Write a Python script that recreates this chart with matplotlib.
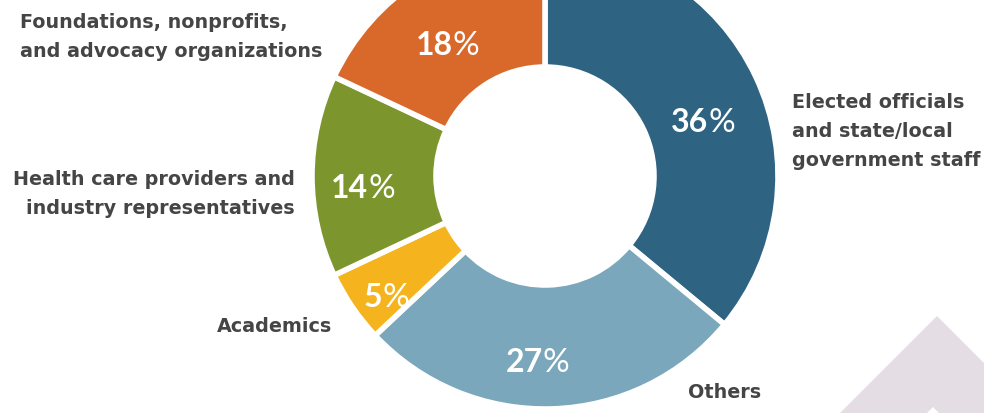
import matplotlib.pyplot as plt
from matplotlib.patches import Polygon

W, H = 984, 413

# data
categories = ["Elected officials\nand state/local\ngovernment staff",
              "Others",
              "Academics",
              "Health care providers and\nindustry representatives",
              "Foundations, nonprofits,\nand advocacy organizations"]
shares = [36, 27, 5, 14, 18]
colors = ["#2E6482", "#7AA7BB", "#F5B41E", "#7C962D", "#D9692B"]

# label placement in pixel coords (x, first baseline y, alignment)
label_pos = [(792, 108, "left"), (688, 398, "left"), (332, 332, "right"),
             (295, 185, "right"), (20, 28, "left")]
# split point between bold number and light "%" and its baseline
pct_pos = [(708, 132), (543, 372), (382, 307), (368, 198), (453, 55)]

text_color = "#454545"

fig = plt.figure(figsize=(W / 100, H / 100), dpi=100)
ax = fig.add_axes([0, 0, 1, 1])

# decorative chevron in the corner
ax.add_patch(Polygon([(937, H - 316), (840, H - 413), (1034, H - 413)],
                     closed=True, color="#E4DEE4", lw=0, zorder=0))
ax.add_patch(Polygon([(933, H - 407), (927, H - 413), (939, H - 413)],
                     closed=True, color="white", lw=0, zorder=0))

cx, cy, r_out, r_in = 545, H - 176, 233, 109
ax.pie(shares, colors=colors, startangle=90, counterclock=False,
       radius=r_out, center=(cx, cy),
       wedgeprops=dict(width=r_out - r_in, edgecolor="white", linewidth=4))

for (x, y, ha), lab in zip(label_pos, categories):
    for i, line in enumerate(lab.split("\n")):
        ax.text(x, H - (y + i * 29), line, ha=ha, va="baseline",
                fontsize=13.8, fontweight="bold", color=text_color,
                family="DejaVu Sans")

for (x, y), v in zip(pct_pos, shares):
    ax.text(x, H - y, str(v), ha="right", va="baseline", fontsize=23,
            fontweight="bold", color="white", family="Lato")
    ax.text(x, H - y, "%", ha="left", va="baseline", fontsize=24,
            fontweight="normal", color="white", family="Lato")

ax.set_xlim(0, W)
ax.set_ylim(0, H)
ax.set_aspect("equal")
ax.axis("off")

fig.savefig("out.png", dpi=100)
